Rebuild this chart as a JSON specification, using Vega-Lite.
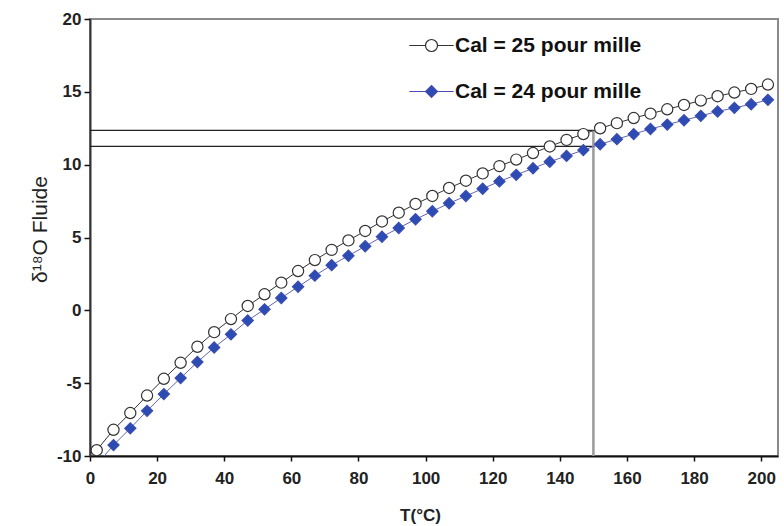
{
  "$schema": "https://vega.github.io/schema/vega-lite/v6.json",
  "width": 688,
  "height": 437,
  "autosize": {"type": "none"},
  "padding": {"left": 90, "top": 19, "right": 6, "bottom": 70},
  "config": {
    "view": {"stroke": "#8a8a8a", "strokeWidth": 2},
    "font": "Liberation Sans"
  },
  "datasets": {
    "curves": [
      {"T": 2, "v": -9.6, "s": "Cal = 25 pour mille"},
      {"T": 7, "v": -8.2, "s": "Cal = 25 pour mille"},
      {"T": 12, "v": -7.05, "s": "Cal = 25 pour mille"},
      {"T": 17, "v": -5.85, "s": "Cal = 25 pour mille"},
      {"T": 22, "v": -4.7, "s": "Cal = 25 pour mille"},
      {"T": 27, "v": -3.6, "s": "Cal = 25 pour mille"},
      {"T": 32, "v": -2.5, "s": "Cal = 25 pour mille"},
      {"T": 37, "v": -1.5, "s": "Cal = 25 pour mille"},
      {"T": 42, "v": -0.6, "s": "Cal = 25 pour mille"},
      {"T": 47, "v": 0.3, "s": "Cal = 25 pour mille"},
      {"T": 52, "v": 1.1, "s": "Cal = 25 pour mille"},
      {"T": 57, "v": 1.9, "s": "Cal = 25 pour mille"},
      {"T": 62, "v": 2.7, "s": "Cal = 25 pour mille"},
      {"T": 67, "v": 3.45, "s": "Cal = 25 pour mille"},
      {"T": 72, "v": 4.15, "s": "Cal = 25 pour mille"},
      {"T": 77, "v": 4.8, "s": "Cal = 25 pour mille"},
      {"T": 82, "v": 5.45, "s": "Cal = 25 pour mille"},
      {"T": 87, "v": 6.1, "s": "Cal = 25 pour mille"},
      {"T": 92, "v": 6.7, "s": "Cal = 25 pour mille"},
      {"T": 97, "v": 7.3, "s": "Cal = 25 pour mille"},
      {"T": 102, "v": 7.85, "s": "Cal = 25 pour mille"},
      {"T": 107, "v": 8.4, "s": "Cal = 25 pour mille"},
      {"T": 112, "v": 8.9, "s": "Cal = 25 pour mille"},
      {"T": 117, "v": 9.4, "s": "Cal = 25 pour mille"},
      {"T": 122, "v": 9.9, "s": "Cal = 25 pour mille"},
      {"T": 127, "v": 10.35, "s": "Cal = 25 pour mille"},
      {"T": 132, "v": 10.8, "s": "Cal = 25 pour mille"},
      {"T": 137, "v": 11.25, "s": "Cal = 25 pour mille"},
      {"T": 142, "v": 11.7, "s": "Cal = 25 pour mille"},
      {"T": 147, "v": 12.1, "s": "Cal = 25 pour mille"},
      {"T": 152, "v": 12.5, "s": "Cal = 25 pour mille"},
      {"T": 157, "v": 12.85, "s": "Cal = 25 pour mille"},
      {"T": 162, "v": 13.2, "s": "Cal = 25 pour mille"},
      {"T": 167, "v": 13.5, "s": "Cal = 25 pour mille"},
      {"T": 172, "v": 13.8, "s": "Cal = 25 pour mille"},
      {"T": 177, "v": 14.1, "s": "Cal = 25 pour mille"},
      {"T": 182, "v": 14.4, "s": "Cal = 25 pour mille"},
      {"T": 187, "v": 14.7, "s": "Cal = 25 pour mille"},
      {"T": 192, "v": 14.95, "s": "Cal = 25 pour mille"},
      {"T": 197, "v": 15.2, "s": "Cal = 25 pour mille"},
      {"T": 202, "v": 15.5, "s": "Cal = 25 pour mille"},
      {"T": 2, "v": -10.6, "s": "Cal = 24 pour mille"},
      {"T": 7, "v": -9.25, "s": "Cal = 24 pour mille"},
      {"T": 12, "v": -8.1, "s": "Cal = 24 pour mille"},
      {"T": 17, "v": -6.9, "s": "Cal = 24 pour mille"},
      {"T": 22, "v": -5.75, "s": "Cal = 24 pour mille"},
      {"T": 27, "v": -4.65, "s": "Cal = 24 pour mille"},
      {"T": 32, "v": -3.55, "s": "Cal = 24 pour mille"},
      {"T": 37, "v": -2.55, "s": "Cal = 24 pour mille"},
      {"T": 42, "v": -1.65, "s": "Cal = 24 pour mille"},
      {"T": 47, "v": -0.7, "s": "Cal = 24 pour mille"},
      {"T": 52, "v": 0.07, "s": "Cal = 24 pour mille"},
      {"T": 57, "v": 0.85, "s": "Cal = 24 pour mille"},
      {"T": 62, "v": 1.62, "s": "Cal = 24 pour mille"},
      {"T": 67, "v": 2.38, "s": "Cal = 24 pour mille"},
      {"T": 72, "v": 3.1, "s": "Cal = 24 pour mille"},
      {"T": 77, "v": 3.75, "s": "Cal = 24 pour mille"},
      {"T": 82, "v": 4.4, "s": "Cal = 24 pour mille"},
      {"T": 87, "v": 5.05, "s": "Cal = 24 pour mille"},
      {"T": 92, "v": 5.65, "s": "Cal = 24 pour mille"},
      {"T": 97, "v": 6.25, "s": "Cal = 24 pour mille"},
      {"T": 102, "v": 6.8, "s": "Cal = 24 pour mille"},
      {"T": 107, "v": 7.35, "s": "Cal = 24 pour mille"},
      {"T": 112, "v": 7.85, "s": "Cal = 24 pour mille"},
      {"T": 117, "v": 8.35, "s": "Cal = 24 pour mille"},
      {"T": 122, "v": 8.85, "s": "Cal = 24 pour mille"},
      {"T": 127, "v": 9.3, "s": "Cal = 24 pour mille"},
      {"T": 132, "v": 9.75, "s": "Cal = 24 pour mille"},
      {"T": 137, "v": 10.2, "s": "Cal = 24 pour mille"},
      {"T": 142, "v": 10.6, "s": "Cal = 24 pour mille"},
      {"T": 147, "v": 11.0, "s": "Cal = 24 pour mille"},
      {"T": 152, "v": 11.4, "s": "Cal = 24 pour mille"},
      {"T": 157, "v": 11.75, "s": "Cal = 24 pour mille"},
      {"T": 162, "v": 12.1, "s": "Cal = 24 pour mille"},
      {"T": 167, "v": 12.45, "s": "Cal = 24 pour mille"},
      {"T": 172, "v": 12.75, "s": "Cal = 24 pour mille"},
      {"T": 177, "v": 13.05, "s": "Cal = 24 pour mille"},
      {"T": 182, "v": 13.35, "s": "Cal = 24 pour mille"},
      {"T": 187, "v": 13.65, "s": "Cal = 24 pour mille"},
      {"T": 192, "v": 13.9, "s": "Cal = 24 pour mille"},
      {"T": 197, "v": 14.15, "s": "Cal = 24 pour mille"},
      {"T": 202, "v": 14.45, "s": "Cal = 24 pour mille"}
    ],
    "hrules": [
      {"x": 0, "x2": 150, "y": 12.35},
      {"x": 0, "x2": 150, "y": 11.25}
    ],
    "vrules": [
      {"x": 150, "y": -10, "y2": 12.35}
    ]
  },
  "resolve": {"scale": {"shape": "independent", "fill": "independent", "stroke": "independent"}},
  "layer": [
    {
      "data": {"name": "hrules"},
      "mark": {"type": "rule", "color": "#222222", "strokeWidth": 1.3},
      "encoding": {
        "x": {"field": "x", "type": "quantitative"},
        "x2": {"field": "x2"},
        "y": {"field": "y", "type": "quantitative"}
      }
    },
    {
      "data": {"name": "vrules"},
      "mark": {"type": "rule", "color": "#9a9a9a", "strokeWidth": 2.5},
      "encoding": {
        "x": {"field": "x", "type": "quantitative"},
        "y": {"field": "y", "type": "quantitative"},
        "y2": {"field": "y2"}
      }
    },
    {
      "data": {"name": "curves"},
      "mark": {"type": "line", "clip": true, "strokeWidth": 1},
      "encoding": {
        "x": {"field": "T", "type": "quantitative"},
        "y": {"field": "v", "type": "quantitative"},
        "detail": {"field": "s", "type": "nominal"},
        "color": {
          "condition": {"test": "datum.s === 'Cal = 25 pour mille'", "value": "#333333"},
          "value": "#6464b4"
        }
      }
    },
    {
      "data": {"name": "curves"},
      "mark": {"type": "point", "clip": true, "opacity": 1, "strokeWidth": 1.2, "size": 125},
      "encoding": {
        "x": {
          "field": "T", "type": "quantitative",
          "scale": {"domain": [0, 205], "nice": false, "zero": false},
          "axis": {
            "values": [0, 10, 20, 30, 40, 50, 60, 70, 80, 90, 100, 110, 120, 130, 140, 150, 160, 170, 180, 190, 200],
            "labelExpr": "datum.value % 20 === 0 ? datum.label : ''",
            "grid": false, "labelFlush": false, "labelOverlap": false,
            "tickSize": 5, "tickWidth": 1.5, "tickColor": "#111111",
            "domainColor": "#111111", "domainWidth": 2,
            "labelFont": "Liberation Sans", "labelFontWeight": "bold", "labelFontSize": 17, "labelColor": "#222222", "labelPadding": 9,
            "title": "T(°C)", "titleFont": "Liberation Sans", "titleFontWeight": "bold", "titleFontSize": 17, "titleColor": "#222222",
            "titleX": 330, "titleY": 64, "titleBaseline": "alphabetic"
          }
        },
        "y": {
          "field": "v", "type": "quantitative",
          "scale": {"domain": [-10, 20], "nice": false, "zero": false},
          "axis": {
            "values": [-10, -5, 0, 5, 10, 15, 20],
            "labelExpr": "datum.value < 0 ? '-' + abs(datum.value) : datum.label",
            "grid": false, "labelFlush": false,
            "tickSize": 6, "tickWidth": 1.5, "tickColor": "#111111",
            "domainColor": "#333333", "domainWidth": 2,
            "labelFont": "Liberation Sans", "labelFontWeight": "bold", "labelFontSize": 17, "labelColor": "#222222", "labelPadding": 3,
            "title": "δ¹⁸O Fluide", "titleFont": "Liberation Sans", "titleFontWeight": "normal", "titleFontSize": 21, "titleColor": "#222222",
            "titleX": -40, "titleY": 210
          }
        },
        "shape": {
          "field": "s", "type": "nominal",
          "scale": {"domain": ["Cal = 25 pour mille", "Cal = 24 pour mille"], "range": ["circle", "diamond"]},
          "legend": null
        },
        "fill": {
          "field": "s", "type": "nominal",
          "scale": {"domain": ["Cal = 25 pour mille", "Cal = 24 pour mille"], "range": ["#ffffff", "#2c4cb4"]},
          "legend": null
        },
        "stroke": {
          "field": "s", "type": "nominal",
          "scale": {"domain": ["Cal = 25 pour mille", "Cal = 24 pour mille"], "range": ["#333333", "#3a4cb0"]},
          "legend": null
        }
      }
    },
    {
      "data": {"name": "curves"},
      "transform": [{"filter": "false"}],
      "mark": {"type": "point", "opacity": 1, "strokeWidth": 1.2, "size": 144},
      "encoding": {
        "shape": {
          "field": "s", "type": "nominal",
          "scale": {"domain": ["Cal = 25 pour mille", "Cal = 24 pour mille"], "range": ["M-3.7,0L-1,0M1,0L3.7,0M-1,0A1,1,0,1,0,1,0A1,1,0,1,0,-1,0", "M-3.7,0L-1,0M1,0L3.7,0M0,-1L1,0L0,1L-1,0Z"]},
          "legend": {
            "title": null, "orient": "none", "legendX": 331, "legendY": 16, "padding": 0,
            "labelFont": "Liberation Sans", "labelFontWeight": "bold", "labelFontSize": 21, "labelColor": "#111111", "labelLimit": 0,
            "labelOffset": 13, "rowPadding": 24, "symbolStrokeWidth": 1.2, "symbolSize": 144
          }
        },
        "fill": {
          "field": "s", "type": "nominal",
          "scale": {"domain": ["Cal = 25 pour mille", "Cal = 24 pour mille"], "range": ["#ffffff", "#2c4cb4"]},
          "legend": {
            "title": null, "orient": "none", "legendX": 331, "legendY": 16, "padding": 0,
            "labelFont": "Liberation Sans", "labelFontWeight": "bold", "labelFontSize": 21, "labelColor": "#111111", "labelLimit": 0,
            "labelOffset": 13, "rowPadding": 24, "symbolStrokeWidth": 1.2, "symbolSize": 144
          }
        },
        "stroke": {
          "field": "s", "type": "nominal",
          "scale": {"domain": ["Cal = 25 pour mille", "Cal = 24 pour mille"], "range": ["#333333", "#4a4cb0"]},
          "legend": {
            "title": null, "orient": "none", "legendX": 331, "legendY": 16, "padding": 0,
            "labelFont": "Liberation Sans", "labelFontWeight": "bold", "labelFontSize": 21, "labelColor": "#111111", "labelLimit": 0,
            "labelOffset": 13, "rowPadding": 24, "symbolStrokeWidth": 1.2, "symbolSize": 144
          }
        }
      }
    }
  ]
}
